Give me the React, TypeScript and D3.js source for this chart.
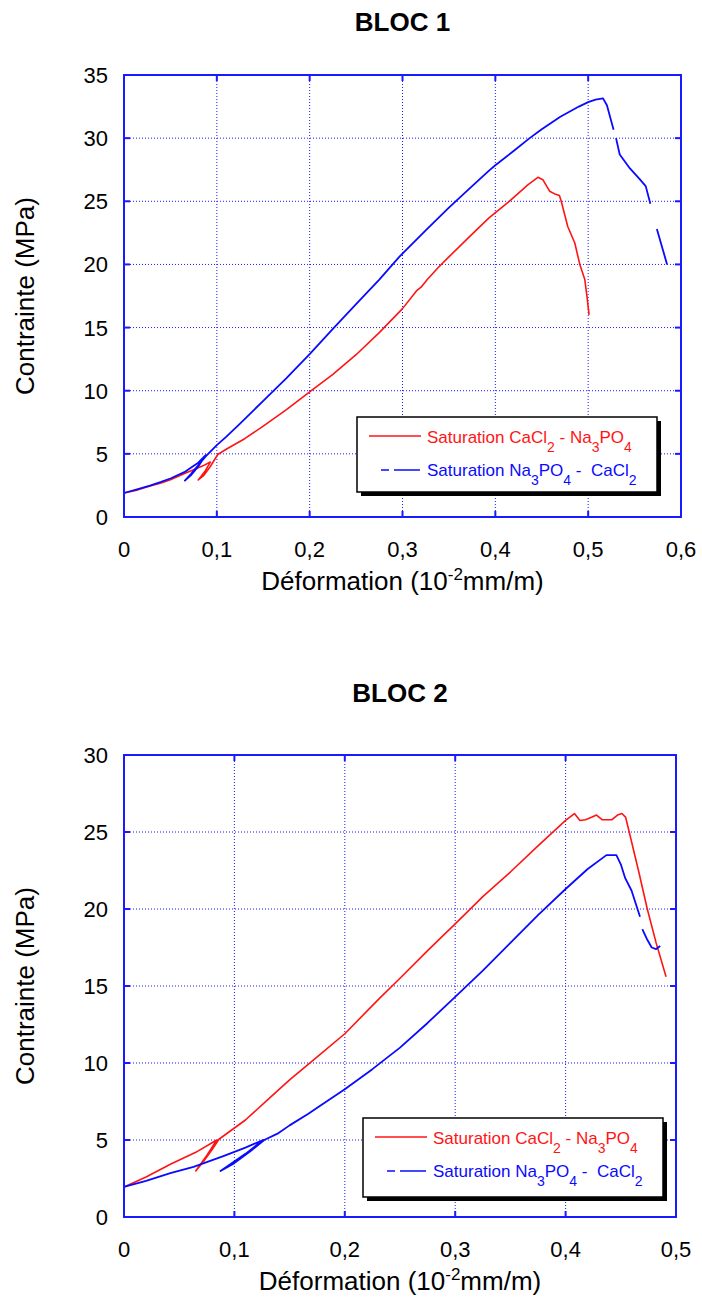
import React from "react";
import * as d3 from "d3";

type Pt = [number, number] | null;

// ---------- BLOC 1 ----------
const bloc1XTicks = [0, 0.1, 0.2, 0.3, 0.4, 0.5, 0.6];
const bloc1YTicks = [0, 5, 10, 15, 20, 25, 30, 35];

const bloc1Red: Pt[] = [
  [0, 1.9], [0.015, 2.15], [0.028, 2.45], [0.04, 2.7], [0.05, 2.95], [0.064, 3.4],
  [0.075, 3.75], [0.085, 4.05], [0.093, 4.35], [0.087, 3.6], [0.08, 2.93], [0.086, 3.3],
  [0.093, 4.0], [0.101, 4.95], [0.111, 5.4], [0.13, 6.2], [0.15, 7.2], [0.175, 8.5],
  [0.2, 9.9], [0.225, 11.3], [0.25, 12.85], [0.275, 14.6], [0.3, 16.5], [0.315, 17.9],
  [0.32, 18.2], [0.3267, 18.8], [0.339, 19.8], [0.35, 20.6], [0.375, 22.4], [0.3935, 23.7],
  [0.415, 25.0], [0.435, 26.3], [0.4458, 26.9], [0.4513, 26.7], [0.4585, 25.8], [0.465, 25.55],
  [0.469, 25.45], [0.471, 25.0], [0.478, 23.0], [0.4856, 21.7], [0.491, 20.0], [0.4964, 18.8],
  [0.499, 17.3], [0.501, 16.0],
];

const bloc1Blue: Pt[] = [
  [0, 1.9], [0.015, 2.2], [0.028, 2.48], [0.04, 2.78], [0.05, 3.05], [0.065, 3.55],
  [0.0728, 3.94], [0.08, 4.3], [0.088, 4.9], [0.08, 4.0], [0.072, 3.3], [0.0656, 2.88],
  [0.072, 3.4], [0.08, 4.1], [0.088, 4.8], [0.0997, 5.67], [0.11, 6.35], [0.125, 7.4],
  [0.15, 9.2], [0.175, 11.0], [0.2, 12.9], [0.225, 14.9], [0.25, 16.85], [0.275, 18.8],
  [0.2965, 20.6], [0.325, 22.7], [0.35, 24.5], [0.375, 26.2], [0.3935, 27.45], [0.4, 27.85],
  [0.42, 29.0], [0.437, 30.0], [0.45, 30.7], [0.47, 31.7], [0.49, 32.5], [0.5, 32.85],
  [0.508, 33.05], [0.516, 33.15], [0.5202, 32.6], [0.5274, 30.66], null,
  [0.53, 30.0], [0.534, 28.7], [0.545, 27.6], [0.555, 26.8], [0.562, 26.2], [0.567, 24.8], null,
  [0.574, 22.8], [0.585, 20.0],
];

// ---------- BLOC 2 ----------
const bloc2XTicks = [0, 0.1, 0.2, 0.3, 0.4, 0.5];
const bloc2YTicks = [0, 5, 10, 15, 20, 25, 30];

const bloc2Red: Pt[] = [
  [0, 1.95], [0.02, 2.6], [0.042, 3.42], [0.065, 4.2], [0.084, 5.0], [0.075, 4.0],
  [0.065, 2.99], [0.072, 3.6], [0.08, 4.4], [0.086, 5.05], [0.11, 6.3], [0.13, 7.6],
  [0.15, 8.9], [0.175, 10.4], [0.2, 11.9], [0.2314, 14.2], [0.25, 15.5], [0.275, 17.3],
  [0.3, 19.03], [0.325, 20.8], [0.35, 22.4], [0.375, 24.1], [0.4, 25.75], [0.408, 26.2],
  [0.413, 25.75], [0.418, 25.8], [0.424, 25.97], [0.428, 26.1], [0.433, 25.8], [0.442, 25.8],
  [0.447, 26.1], [0.451, 26.2], [0.4543, 25.97], [0.4573, 25.1], [0.466, 22.5], [0.474, 20.0],
  [0.482, 17.8], [0.491, 15.6],
];

const bloc2Blue: Pt[] = [
  [0, 1.95], [0.02, 2.35], [0.042, 2.85], [0.063, 3.25], [0.09, 3.95], [0.11, 4.5],
  [0.126, 5.0], [0.11, 4.1], [0.0874, 2.99], [0.1, 3.5], [0.115, 4.3], [0.127, 5.0],
  [0.14, 5.45], [0.15, 5.95], [0.167, 6.7], [0.175, 7.1], [0.2, 8.3], [0.225, 9.6],
  [0.25, 11.0], [0.275, 12.6], [0.3, 14.3], [0.325, 16.0], [0.35, 17.8], [0.375, 19.6],
  [0.4, 21.3], [0.42, 22.6], [0.437, 23.5], [0.446, 23.5], [0.45, 22.9], [0.454, 22.0],
  [0.4597, 21.2], [0.4674, 19.5], null, [0.4695, 18.7], [0.474, 18.0], [0.478, 17.5],
  [0.482, 17.4], [0.4857, 17.6],
];

const RED = "#ff1414";
const BLUE = "#0a0aff";
const AXIS = "#1a1aff";
const FONT = "'Liberation Sans', Arial, sans-serif";

const locale = d3.formatLocale({ decimal: ",", thousands: " ", grouping: [3], currency: ["", ""] });
const fmt = locale.format("~g");

type PanelProps = {
  title: string;
  titleY: number;
  left: number; right: number; top: number; bottom: number;
  xMax: number; yMax: number;
  xTicks: number[]; yTicks: number[];
  red: Pt[]; blue: Pt[];
  legend: { x: number; y: number; w: number; h: number };
};

function LegendText({ x, y, color, parts }: { x: number; y: number; color: string; parts: [string, boolean][] }) {
  let prevSub = false;
  return (
    <text x={x} y={y} fill={color} fontFamily={FONT} fontSize={17}>
      {parts.map(([t, sub], i) => {
        let dy = 0;
        if (sub && !prevSub) dy = 9;
        if (!sub && prevSub) dy = -9;
        prevSub = sub;
        return (
          <tspan key={i} dy={dy} fontSize={sub ? 14 : 17} style={{ whiteSpace: "pre" }}>
            {t}
          </tspan>
        );
      })}
    </text>
  );
}

function Panel(p: PanelProps) {
  const x = d3.scaleLinear().domain([0, p.xMax]).range([p.left, p.right]);
  const y = d3.scaleLinear().domain([0, p.yMax]).range([p.bottom, p.top]);
  const line = d3
    .line<Pt>()
    .defined((d) => d !== null)
    .x((d) => x((d as [number, number])[0]))
    .y((d) => y((d as [number, number])[1]));
  const cx = (p.left + p.right) / 2;
  const cy = (p.top + p.bottom) / 2;
  const tl = 6;
  const L = p.legend;
  return (
    <g>
      <text x={cx} y={p.titleY} textAnchor="middle" fontFamily={FONT} fontWeight="bold" fontSize={26} fill="#000">
        {p.title}
      </text>
      {/* grid */}
      {p.xTicks.slice(1, -1).map((t) => (
        <line key={"gx" + t} x1={x(t)} x2={x(t)} y1={p.top} y2={p.bottom} stroke={AXIS} strokeWidth={1} strokeDasharray="1,2" />
      ))}
      {p.yTicks.slice(1, -1).map((t) => (
        <line key={"gy" + t} x1={p.left} x2={p.right} y1={y(t)} y2={y(t)} stroke={AXIS} strokeWidth={1} strokeDasharray="1,2" />
      ))}
      {/* inward ticks */}
      {p.xTicks.map((t) => (
        <g key={"tx" + t}>
          <line x1={x(t)} x2={x(t)} y1={p.bottom} y2={p.bottom - tl} stroke={AXIS} strokeWidth={2} />
          <line x1={x(t)} x2={x(t)} y1={p.top} y2={p.top + tl} stroke={AXIS} strokeWidth={2} />
        </g>
      ))}
      {p.yTicks.map((t) => (
        <g key={"ty" + t}>
          <line x1={p.left} x2={p.left + tl} y1={y(t)} y2={y(t)} stroke={AXIS} strokeWidth={2} />
          <line x1={p.right} x2={p.right - tl} y1={y(t)} y2={y(t)} stroke={AXIS} strokeWidth={2} />
        </g>
      ))}
      {/* curves */}
      <path d={line(p.red) || ""} fill="none" stroke={RED} strokeWidth={1.6} strokeLinejoin="round" />
      <path d={line(p.blue) || ""} fill="none" stroke={BLUE} strokeWidth={1.8} strokeLinejoin="round" />
      {/* frame */}
      <rect x={p.left} y={p.top} width={p.right - p.left} height={p.bottom - p.top} fill="none" stroke={AXIS} strokeWidth={2} />
      {/* tick labels */}
      {p.xTicks.map((t) => (
        <text key={"lx" + t} x={x(t)} y={p.bottom + 40} textAnchor="middle" fontFamily={FONT} fontSize={22} fill="#000">
          {fmt(t)}
        </text>
      ))}
      {p.yTicks.map((t) => (
        <text key={"ly" + t} x={p.left - 16} y={y(t) + 8} textAnchor="end" fontFamily={FONT} fontSize={22} fill="#000">
          {fmt(t)}
        </text>
      ))}
      {/* axis titles */}
      <text x={cx} y={p.bottom + 73} textAnchor="middle" fontFamily={FONT} fontSize={26} fill="#000">
        Déformation (10<tspan dy={-10} fontSize={17}>-2</tspan><tspan dy={10}>mm/m)</tspan>
      </text>
      <text transform={`translate(34,${cy}) rotate(-90)`} textAnchor="middle" fontFamily={FONT} fontSize={26} fill="#000">
        Contrainte (MPa)
      </text>
      {/* legend */}
      <rect x={L.x + 4} y={L.y + 4} width={L.w} height={L.h} fill="#000" />
      <rect x={L.x} y={L.y} width={L.w} height={L.h} fill="#fff" stroke="#000" strokeWidth={1.5} />
      <line x1={L.x + 12} x2={L.x + 64} y1={L.y + 19} y2={L.y + 19} stroke={RED} strokeWidth={1.5} />
      <LegendText
        x={L.x + 70}
        y={L.y + 26}
        color={RED}
        parts={[["Saturation CaCl", false], ["2", true], [" - Na", false], ["3", true], ["PO", false], ["4", true]]}
      />
      <line x1={L.x + 24} x2={L.x + 32} y1={L.y + 53} y2={L.y + 53} stroke={BLUE} strokeWidth={1.5} />
      <line x1={L.x + 37} x2={L.x + 63} y1={L.y + 53} y2={L.y + 53} stroke={BLUE} strokeWidth={1.5} />
      <LegendText
        x={L.x + 70}
        y={L.y + 59}
        color={BLUE}
        parts={[["Saturation Na", false], ["3", true], ["PO", false], ["4", true], [" -  CaCl", false], ["2", true]]}
      />
    </g>
  );
}

export default function App() {
  return (
    <svg
      width={702}
      height={1299}
      viewBox="0 0 702 1299"
      style={{ position: "absolute", left: 0, top: 0, background: "#fff" }}
    >
      <rect x={0} y={0} width={702} height={1299} fill="#fff" />
      <Panel
        title="BLOC 1"
        titleY={31}
        left={124} right={681} top={75} bottom={517}
        xMax={0.6} yMax={35}
        xTicks={bloc1XTicks} yTicks={bloc1YTicks}
        red={bloc1Red} blue={bloc1Blue}
        legend={{ x: 357, y: 417, w: 300, h: 75 }}
      />
      <Panel
        title="BLOC 2"
        titleY={702}
        left={124} right={676} top={755} bottom={1217}
        xMax={0.5} yMax={30}
        xTicks={bloc2XTicks} yTicks={bloc2YTicks}
        red={bloc2Red} blue={bloc2Blue}
        legend={{ x: 363, y: 1118, w: 300, h: 79 }}
      />
    </svg>
  );
}
